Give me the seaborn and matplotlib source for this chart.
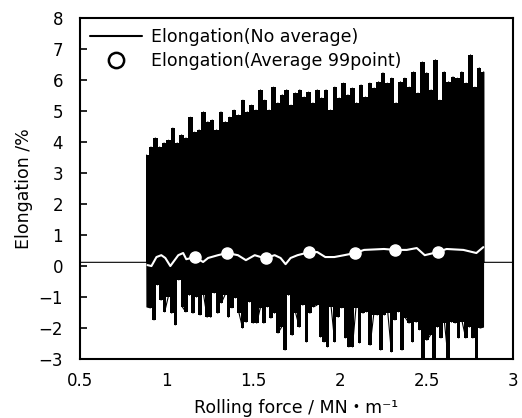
import numpy as np
import pandas as pd
import matplotlib
matplotlib.use("Agg")
import matplotlib.pyplot as plt
from matplotlib.lines import Line2D
import seaborn as sns

# Данные, считанные с рисунка
# уровень сигнала до и после прокатки
base_force = [0.5, 0.885, 2.832, 3.0]
base_elong = [0.12, 0.12, 0.12, 0.12]

# верхние пики сигнала (без усреднения), от 0.885 до 2.83
peak_top = [3.58, 3.84, 4.13, 3.84, 3.97, 4.06, 4.45, 3.97, 4.23, 4.13, 4.80, 4.32, 4.39,
            4.97, 4.65, 4.71, 4.39, 4.97, 4.65, 4.80, 5.03, 4.87, 5.35, 4.97, 5.19, 5.03,
            5.68, 5.35, 5.03, 5.77, 5.26, 5.52, 5.68, 5.19, 5.58, 5.68, 5.45, 5.61, 5.26,
            5.68, 5.42, 5.68, 5.03, 5.77, 5.42, 5.90, 5.52, 5.74, 5.26, 5.84, 5.45, 5.90,
            5.74, 5.94, 6.23, 5.90, 6.06, 5.26, 5.94, 6.06, 5.77, 6.26, 5.58, 6.58, 6.23,
            5.68, 6.65, 5.35, 6.26, 5.94, 6.10, 6.06, 6.26, 5.90, 6.81, 5.77, 6.39, 6.26]

# нижние пики сигнала
peak_bottom = [-1.32, -1.35, -1.74, -0.61, -1.10, -1.48, -1.00, -1.52, -1.90, -0.45, -1.32,
               -1.48, -0.94, -1.52, -1.00, -1.58, -0.94, -1.65, -1.65, -0.87, -1.52, -1.19,
               -0.94, -1.65, -1.35, -1.03, -1.52, -2.00, -1.81, -1.16, -1.84, -1.84, -1.35,
               -1.84, -1.32, -1.68, -1.52, -2.16, -1.97, -2.71, -0.94, -2.23, -1.52, -1.97,
               -1.26, -2.45, -1.52, -1.32, -1.26, -2.29, -2.45, -2.61, -1.32, -2.45, -1.65,
               -1.35, -2.32, -2.61, -2.61, -1.35, -2.48, -1.52, -1.48, -2.55, -1.58, -1.58,
               -2.71, -1.58, -1.52, -2.77, -1.74, -1.48, -2.71, -1.68, -1.84, -2.45, -1.81,
               -2.06, -2.97, -2.39, -2.23, -2.97, -1.97, -2.32, -1.84, -2.97, -1.81, -1.84,
               -2.32, -1.81, -2.32, -1.97, -2.32, -3.10, -2.00, -1.97]

# скользящее среднее (99 точек)
avg_force = [0.890, 0.913, 0.942, 0.970, 0.993, 1.022, 1.039, 1.068, 1.096, 1.114, 1.165,
             1.211, 1.240, 1.297, 1.349, 1.412, 1.458, 1.509, 1.544, 1.572, 1.624, 1.658,
             1.687, 1.716, 1.756, 1.825, 1.870, 1.916, 1.968, 2.025, 2.088, 2.140, 2.255,
             2.318, 2.386, 2.444, 2.490, 2.564, 2.616, 2.713, 2.788, 2.828]
avg_elong = [0.03, 0.00, 0.29, 0.35, 0.26, 0.00, 0.13, 0.35, 0.42, 0.22, 0.29,
             0.13, 0.26, 0.35, 0.42, 0.35, 0.19, 0.35, 0.29, 0.26, 0.35, 0.26,
             0.06, 0.26, 0.35, 0.45, 0.45, 0.29, 0.29, 0.35, 0.42, 0.52, 0.55,
             0.52, 0.52, 0.58, 0.35, 0.45, 0.55, 0.52, 0.42, 0.61]

# точки-маркеры среднего
mark_force = [1.165, 1.349, 1.572, 1.825, 2.088, 2.318, 2.564]
mark_elong = [0.29, 0.42, 0.26, 0.45, 0.42, 0.52, 0.45]

# Сборка сигнала
x_top = np.linspace(0.885, 2.830, len(peak_top))
x_bot = np.linspace(0.887, 2.829, len(peak_bottom))
raw = pd.DataFrame({
    "force": np.r_[base_force, x_top, x_bot],
    "elong": np.r_[base_elong, peak_top, peak_bottom],
}).sort_values("force")

sns.set_theme(style="ticks")
plt.rcParams["font.family"] = ["DejaVu Sans", "Noto Sans CJK JP"]
plt.rcParams["text.color"] = "black"
plt.rcParams["axes.labelcolor"] = "black"
plt.rcParams["xtick.color"] = "black"
plt.rcParams["ytick.color"] = "black"

fig = plt.figure(figsize=(5.22, 4.18), dpi=100)
ax = fig.add_axes([0.153, 0.141, 0.830, 0.816])

# плотная зона сигнала (пики вверх и вниз)
ax.fill_between(x_top, 0.12, peak_top, step="mid", color="black", lw=0, zorder=2)
ax.fill_between(x_bot, 0.12, peak_bottom, step="mid", color="black", lw=0, zorder=2)
sns.lineplot(data=raw, x="force", y="elong", color="black", lw=0.8,
             estimator=None, sort=True, ax=ax, zorder=3)

# среднее
sns.lineplot(x=avg_force, y=avg_elong, color="white", lw=1.5,
             estimator=None, sort=False, ax=ax, zorder=4)
ax.plot(mark_force, mark_elong, "o", ms=8, mfc="white", mec="white", zorder=5)

ax.set_xlim(0.5, 3)
ax.set_ylim(-3, 8)
ax.set_xticks([0.5, 1, 1.5, 2, 2.5, 3])
ax.set_xticklabels(["0.5", "1", "1.5", "2", "2.5", "3"])
ax.set_yticks(range(-3, 9))
ax.tick_params(axis="y", direction="in", length=5, width=1.2, labelsize=12, pad=12,
               colors="black")
ax.tick_params(axis="x", length=0, labelsize=12, pad=9, colors="black")
for s in ax.spines.values():
    s.set_linewidth(1.5)
    s.set_color("black")
    s.set_zorder(6)

ax.set_xlabel("Rolling force / MN・m⁻¹", fontsize=12.5, labelpad=7, color="black")
ax.set_ylabel("Elongation /%", fontsize=12.5, labelpad=4, color="black")

handles = [
    Line2D([], [], color="black", lw=1.5),
    Line2D([], [], ls="none", marker="o", ms=11, mfc="white", mec="black", mew=1.8),
]
leg = ax.legend(handles, ["Elongation(No average)", "Elongation(Average 99point)"],
                loc="upper left", bbox_to_anchor=(0.0, 1.0), frameon=False, fontsize=12.5,
                handlelength=3.0, handletextpad=0.5, labelspacing=0.35, borderaxespad=0.2)
for t in leg.get_texts():
    t.set_color("black")

fig.savefig("out.png", dpi=100)
